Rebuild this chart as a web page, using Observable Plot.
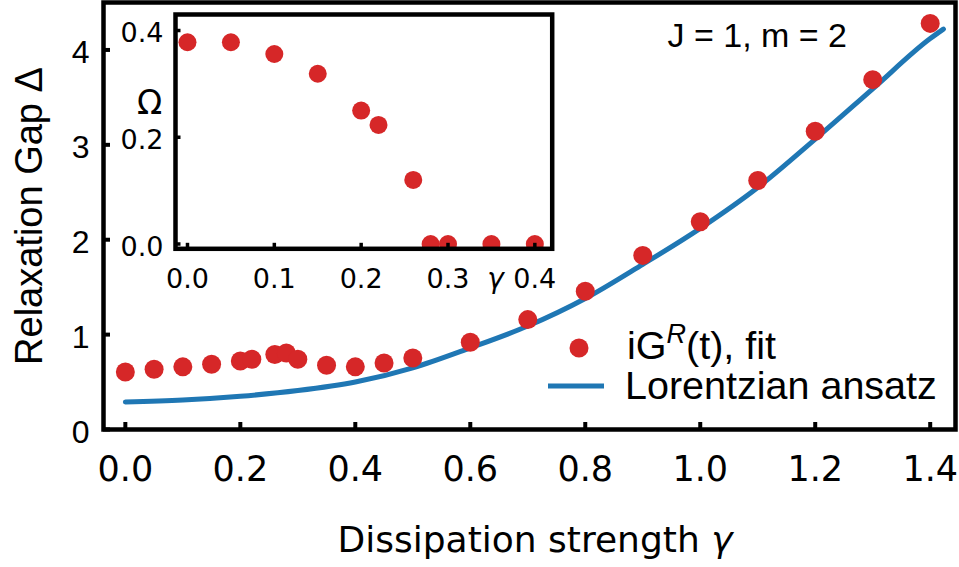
<!DOCTYPE html>
<html><head><meta charset="utf-8">
<script src="https://cdn.jsdelivr.net/npm/d3@7"></script>
<script src="https://cdn.jsdelivr.net/npm/@observablehq/plot@0.6"></script>
<style>
body{margin:0;background:#fff;}
#wrap{position:relative;width:959px;height:567px;overflow:hidden;background:#fff;}
#wrap svg{position:absolute;}
</style></head><body><div id="wrap"></div>
<script>
// ---- data ----
const gammaFit = [0,0.05,0.1,0.15,0.2,0.22,0.26,0.28,0.3,0.35,0.4,0.45,0.5,0.6,0.7,0.8,0.9,1.0,1.1,1.2,1.3,1.4];
const gapFit = [0.606,0.635,0.66,0.687,0.722,0.74,0.79,0.806,0.74,0.677,0.66,0.70,0.754,0.92,1.158,1.456,1.835,2.19,2.624,3.143,3.687,4.28];
const gammaLorentz = [0,0.1,0.2,0.3,0.4,0.5,0.6,0.7,0.8,0.9,1.0,1.1,1.2,1.3,1.4,1.423];
const gapLorentz = [0.29,0.31,0.35,0.41,0.50,0.65,0.86,1.09,1.38,1.74,2.12,2.55,3.06,3.59,4.12,4.22];
const gammaInset = [0,0.05,0.1,0.15,0.2,0.22,0.26,0.28,0.3,0.35,0.4];
const omegaInset = [0.378,0.378,0.356,0.319,0.25,0.223,0.12,0,0,0,0];
const xTicksMain = [0,0.2,0.4,0.6,0.8,1.0,1.2,1.4];
const yTicksMain = [0,1,2,3,4];
const xTicksInset = [0,0.1,0.2,0.3,0.4];
const yTicksInset = [0,0.2,0.4];

const RED = "#d62728", BLUE = "#1f77b4";
const fitData = gammaFit.map((g,i)=>({g, d: gapFit[i]}));
const lineData = gammaLorentz.map((g,i)=>({g, d: gapLorentz[i]}));
const insetData = gammaInset.map((g,i)=>({g, w: omegaInset[i]}));

const wrap = document.getElementById("wrap");

// ---- main plot ----
const main = Plot.plot({
  width: 959, height: 567,
  marginLeft: 103, marginRight: 4, marginTop: 2, marginBottom: 138,
  x: {domain: [-0.038, 1.444]},
  y: {domain: [0, 4.5]},
  style: {background: "white", overflow: "visible"},
  marks: [
    Plot.line(lineData, {x: "g", y: "d", stroke: BLUE, strokeWidth: 5, curve: "monotone-x"}),
    Plot.dot(fitData, {x: "g", y: "d", r: 9.5, fill: RED}),
    Plot.axisX(xTicksMain, {tickSize: -7, strokeWidth: 4, tickFormat: () => "", label: null}),
    Plot.axisX(xTicksMain, {tickSize: 0, tickPadding: 27, tickFormat: d => d.toFixed(1), fontSize: 35, fontFamily: "DejaVu Sans", fill: "black", label: null}),
    Plot.axisY(yTicksMain, {tickSize: -7, strokeWidth: 4, tickFormat: () => "", label: null}),
    Plot.axisY(yTicksMain, {tickSize: 0, tickPadding: 14, dy: 3, tickFormat: d => String(d), fontSize: 32, fontFamily: "Liberation Sans", fill: "black", label: null}),
    Plot.frame({stroke: "black", strokeWidth: 4.5}),
    Plot.text(["J = 1, m = 2"], {frameAnchor: "top-left", dx: 564, dy: 44, textAnchor: "start", lineAnchor: "bottom", fontSize: 34, fontFamily: "Liberation Sans", fill: "black"}),
    Plot.text(["Relaxation Gap Δ"], {frameAnchor: "left", dx: -62, rotate: -90, textAnchor: "middle", lineAnchor: "bottom", fontSize: 38, fontFamily: "Liberation Sans", fill: "black"})
  ]
});
main.style.left = "0px"; main.style.top = "0px";
wrap.appendChild(main);

// x-axis title with italic gamma, and legend
const ms = d3.select(main);
const xt = ms.append("text").attr("x", 535).attr("y", 552).attr("text-anchor", "middle")
  .attr("font-family", "DejaVu Sans").attr("font-size", 36).attr("fill", "black");
xt.append("tspan").text("Dissipation strength ");
xt.append("tspan").attr("font-style", "italic").text("γ");

const lg = ms.append("g").attr("text-anchor", "start");
lg.append("circle").attr("cx", 579).attr("cy", 348).attr("r", 9.5).attr("fill", RED);
const t1 = lg.append("text").attr("x", 627).attr("y", 359).attr("text-anchor", "start").attr("font-family", "Liberation Sans").attr("font-size", 39.5).attr("fill", "black");
t1.append("tspan").text("iG");
t1.append("tspan").attr("font-style", "italic").attr("font-size", 27).attr("dy", -16).text("R");
t1.append("tspan").attr("dy", 16).text("(t), fit");
lg.append("line").attr("x1", 548).attr("x2", 604).attr("y1", 386).attr("y2", 386).attr("stroke", BLUE).attr("stroke-width", 5);
lg.append("text").attr("x", 625).attr("y", 399).attr("text-anchor", "start").attr("font-family", "Liberation Sans").attr("font-size", 39.5).attr("fill", "black").text("Lorentzian ansatz");

// ---- inset ----
const inset = Plot.plot({
  width: 460, height: 300,
  marginLeft: 75, marginRight: 8.3, marginTop: 14, marginBottom: 51.7,
  x: {domain: [-0.0138, 0.420]},
  y: {domain: [-0.009, 0.43]},
  style: {background: "transparent", overflow: "visible"},
  marks: [
    Plot.frame({fill: "white"}),
    Plot.dot(insetData, {x: "g", y: "w", r: 9, fill: RED, clip: true}),
    Plot.axisX(xTicksInset, {tickSize: -5.5, strokeWidth: 3.5, tickFormat: () => "", label: null}),
    Plot.axisX(xTicksInset, {tickSize: 0, tickPadding: 20, tickFormat: d => d.toFixed(1), fontSize: 27, fontFamily: "DejaVu Sans", fill: "black", label: null}),
    Plot.axisY(yTicksInset, {tickSize: -5.5, strokeWidth: 3.5, tickFormat: () => "", label: null}),
    Plot.axisY(yTicksInset, {tickSize: 0, tickPadding: 12, dy: 3, tickFormat: d => d.toFixed(1), fontSize: 27, fontFamily: "DejaVu Sans", fill: "black", label: null}),
    Plot.frame({stroke: "black", strokeWidth: 4.5}),
    Plot.text(["Ω"], {frameAnchor: "top-left", dx: -26, dy: 89, textAnchor: "middle", lineAnchor: "middle", fontSize: 33, fontFamily: "DejaVu Sans", fill: "black"}),
    Plot.text(["γ"], {frameAnchor: "bottom-left", dx: 320, dy: 39, textAnchor: "middle", lineAnchor: "bottom", fontSize: 28, fontStyle: "italic", fontFamily: "DejaVu Sans", fill: "black"})
  ]
});
inset.style.left = "100px"; inset.style.top = "0px";
wrap.appendChild(inset);
</script>
</body></html>
